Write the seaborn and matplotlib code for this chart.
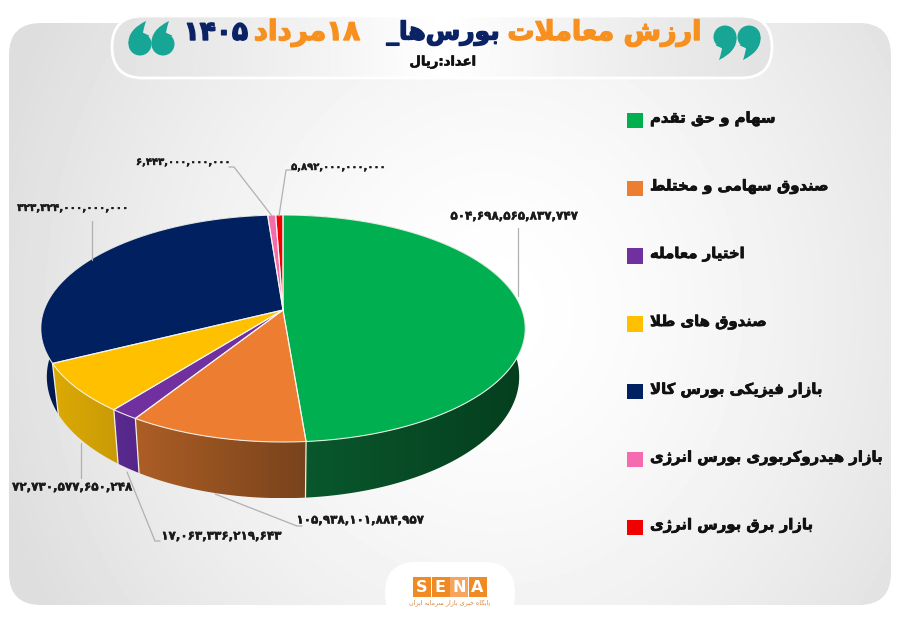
import numpy as np
import pandas as pd
import matplotlib
matplotlib.use('Agg')
import matplotlib.pyplot as plt
import matplotlib.patheffects as pe
from matplotlib.patches import FancyBboxPatch, Rectangle, Polygon, Circle, PathPatch
from matplotlib.path import Path
from matplotlib.colors import to_rgb
import seaborn as sns

categories = ['سهام و حق تقدم', 'صندوق سهامی و مختلط', 'اختیار معامله', 'صندوق های طلا',
              'بازار فیزیکی بورس کالا', 'بازار هیدروکربوری بورس انرژی', 'بازار برق بورس انرژی']
values = [504698565837747, 105938101884957, 17063336219643, 72730577650248,
          323324000000000, 6443000000000, 5892000000000]
value_labels = ['۵۰۴,۶۹۸,۵۶۵,۸۳۷,۷۴۷', '۱۰۵,۹۳۸,۱۰۱,۸۸۴,۹۵۷', '۱۷,۰۶۳,۳۳۶,۲۱۹,۶۴۳', '۷۲,۷۳۰,۵۷۷,۶۵۰,۲۴۸',
                '۳۲۳,۳۲۴,۰۰۰,۰۰۰,۰۰۰', '۶,۴۴۳,۰۰۰,۰۰۰,۰۰۰', '۵,۸۹۲,۰۰۰,۰۰۰,۰۰۰']
label_sizes = [8.6, 8.6, 8.6, 8.6, 7.5, 7.2, 7.2]
colors = ['#00b050', '#ed7d31', '#7030a0', '#ffc000', '#002060', '#f56bb0', '#f00000']
# wall shading, left and right end as seen on screen
wall_left = ['#0a5a2e', '#ad5e25', '#5a2a8f', '#dcaa04', '#001a52', '#a0406f', '#a00000']
wall_right = ['#053e1e', '#78431c', '#55268a', '#c99a06', '#001a52', '#a0406f', '#a00000']

# label box (x, y) and leader line points, in pixels
label_xy = [(514, 216), (360, 520), (221, 536), (72, 487), (73, 208), (183, 162), (338, 167)]
leaders = [[(518, 228), (518, 296)],
           [(302, 526), (297, 526), (215, 494)],
           [(160, 541), (155, 541), (127, 472)],
           [(81, 478), (81, 443)],
           [(92, 221), (92, 260)],
           [(229, 167), (234, 167), (272, 216)],
           [(292, 170), (286, 170), (279, 216)]]

# persian shaping, matplotlib has no text layout for it
FORMS = {'ا': (0xFE8D, 0xFE8E), 'آ': (0xFE81, 0xFE82), 'د': (0xFEA9, 0xFEAA), 'ذ': (0xFEAB, 0xFEAC),
         'ر': (0xFEAD, 0xFEAE), 'ز': (0xFEAF, 0xFEB0), 'ژ': (0xFB8A, 0xFB8B), 'و': (0xFEED, 0xFEEE),
         'ب': (0xFE8F,) , 'ت': (0xFE95,), 'ج': (0xFE9D,), 'ح': (0xFEA1,), 'خ': (0xFEA5,), 'س': (0xFEB1,),
         'ش': (0xFEB5,), 'ص': (0xFEB9,), 'ط': (0xFEC1,), 'ع': (0xFEC9,), 'ف': (0xFED1,), 'ق': (0xFED5,),
         'ل': (0xFEDD,), 'م': (0xFEE1,), 'ن': (0xFEE5,), 'ه': (0xFEE9,), 'پ': (0xFB56,), 'ک': (0xFB8E,),
         'گ': (0xFB92,), 'ی': (0xFBFC,)}
DIGITS = '۰۱۲۳۴۵۶۷۸۹'


def shape_run(s):
    out = []
    i = 0
    while i < len(s):
        c = s[i]
        if c not in FORMS:
            out.append(c)
            i += 1
            continue
        prev = s[i - 1] if i > 0 else ' '
        joins_prev = prev in FORMS and len(FORMS[prev]) == 1
        if c == 'ل' and i + 1 < len(s) and s[i + 1] == 'ا':
            out.append(chr(0xFEFC if joins_prev else 0xFEFB))
            i += 2
            continue
        nxt = s[i + 1] if i + 1 < len(s) else ' '
        joins_next = nxt in FORMS
        f = FORMS[c]
        if len(f) == 2:
            out.append(chr(f[1] if joins_prev else f[0]))
        else:
            k = (1 if joins_prev else 0) if not joins_next else (3 if joins_prev else 2)
            out.append(chr(f[0] + k))
        i += 1
    return ''.join(out)


def fa(s):
    # split digit runs so they stay left to right
    runs = []
    cur = ''
    for c in s:
        if cur and (c in DIGITS) != (cur[-1] in DIGITS):
            runs.append(cur)
            cur = ''
        cur += c
    runs.append(cur)
    shaped = [r if r[0] in DIGITS else shape_run(r)[::-1] for r in runs]
    return ''.join(shaped[::-1])


def heavy(col, w=0.5):
    return [pe.withStroke(linewidth=w, foreground=col)]


def quote_mark(ax, hx, hy, sign, col):
    # ornament: round head with a curved tail, sign=1 hangs down (9), sign=-1 points up (6)
    r = 11.5
    ax.add_patch(Circle((hx, hy), r, fc=col, ec='none', zorder=3))
    pts = [(r, 0), (r + 1, 14), (-6, 23), (-3, 14), (-3, r - 1), (-r + 2, r - 3)]
    pts = [(hx + sign * p[0], hy + sign * p[1]) for p in pts]
    ax.add_patch(PathPatch(Path(pts, [Path.MOVETO, Path.CURVE3, Path.CURVE3, Path.CURVE3, Path.CURVE3, Path.LINETO]),
                           fc=col, ec='none', zorder=3))


sns.set_theme(style='white')
plt.rcParams['font.family'] = ['DejaVu Sans']
df = pd.DataFrame({'category': categories, 'value': values, 'pos': np.arange(len(categories))})

fig = plt.figure(figsize=(9, 6.23), dpi=100)
ax = fig.add_axes([0, 0, 1, 1])

# panel background
yy, xx = np.mgrid[0:1:200j, 0:1:300j]
bg = 1 - 0.105 * np.clip(np.hypot((xx - 0.55) / 0.5, (yy - 0.5) / 0.8), 0, 1.15) ** 1.5
im = ax.imshow(bg, extent=(0, 900, 623, 0), cmap='gray', vmin=0, vmax=1, aspect='auto', zorder=0)
panel = FancyBboxPatch((9, 23), 882, 582, boxstyle='round,pad=0,rounding_size=32', fc='none', ec='none')
ax.add_patch(panel)
im.set_clip_path(panel)

# title pill
px = np.linspace(0, 1, 300)[None, :]
pill_bg = 0.89 + 0.11 * (1 - np.abs(px - 0.5) * 2) ** 1.2
im2 = ax.imshow(pill_bg, extent=(112, 772, 78, 16), cmap='gray', vmin=0, vmax=1, aspect='auto', zorder=1)
pill = FancyBboxPatch((112, 16), 660, 62, boxstyle='round,pad=0,rounding_size=31', fc='none', ec='white', lw=2, zorder=2)
ax.add_patch(pill)
im2.set_clip_path(pill)

ORANGE = '#f7901e'
NAVY = '#0b2265'
TEAL = '#17a596'
for txt, x, col, fs in [('ارزش معاملات', 702, ORANGE, 19.5), ('بورس‌ها_', 500, NAVY, 18),
                        ('۱۸مرداد', 360, ORANGE, 20), ('۱۴۰۵', 248, NAVY, 19)]:
    ax.text(x, 33, fa(txt), ha='right', va='center', fontsize=fs, fontweight='bold', color=col, zorder=3,
            path_effects=heavy(col, 1.0))
ax.text(443, 62, fa('اعداد:ریال'), ha='center', va='center', fontsize=9.5, fontweight='bold', color='#111111', zorder=3,
        path_effects=heavy('#111111', 0.4))
for hx in [725, 749]:
    quote_mark(ax, hx, 37, 1, TEAL)
for hx in [140, 163]:
    quote_mark(ax, hx, 44, -1, TEAL)

# perspective pie, angles go clockwise from the top
cx, cy, rx, ry, k, depth, taper = 283, 310, 239, 110.5, 0.163, 47, 0.025
edges = np.concatenate([[0], np.cumsum(df['value'] / df['value'].sum()) * 2 * np.pi])


def project(theta, drop=0.0):
    z = np.cos(theta)
    s = 1 / (1 + k * z)
    sx = 1 - taper * np.asarray(drop) / depth
    return cx + rx * np.sin(theta) * s * sx, cy - ry * z * s + drop * s


grad = np.linspace(0, 1, 256)[None, :, None]
for i in range(len(values)):
    a, b = edges[i], edges[i + 1]
    t = np.linspace(a, b, 200)
    x1, y1 = project(t)
    x2, y2 = project(t[::-1], depth)
    poly = np.c_[np.r_[x1, x2], np.r_[y1, y2]]
    rgb = np.array(to_rgb(wall_left[i])) * (1 - grad) + np.array(to_rgb(wall_right[i])) * grad
    wall = ax.imshow(rgb, extent=(poly[:, 0].min(), poly[:, 0].max(), poly[:, 1].max(), poly[:, 1].min()),
                     aspect='auto', zorder=4)
    clip = Polygon(poly, closed=True, fc='none', ec='none')
    ax.add_patch(clip)
    wall.set_clip_path(clip)

for a in edges[:-1]:
    # white seam on the wall between slices
    if np.cos(a) < 0.2:
        xe, ye = project(np.array([a, a]), np.array([0, depth]))
        ax.plot(xe, ye, color='#f3efe0', lw=0.9, zorder=5)

for i in range(len(values)):
    a, b = edges[i], edges[i + 1]
    t = np.linspace(a, b, 200)
    x, y = project(t)
    ax.fill(np.r_[cx, x], np.r_[cy, y], color=colors[i], lw=0, zorder=6)
    ax.plot(np.r_[cx, x, cx], np.r_[cy, y, cy], color='#f7f7ef', lw=0.8, zorder=7, alpha=0.9)

# value labels and their leader lines
for i in range(len(values)):
    ax.text(label_xy[i][0], label_xy[i][1], value_labels[i], ha='center', va='center', fontsize=label_sizes[i],
            fontweight='bold', color='#1a1a1a', zorder=9, path_effects=heavy('#1a1a1a', 0.3))
    pts = np.array(leaders[i])
    ax.plot(pts[:, 0], pts[:, 1], color='#b0b0b0', lw=0.9, zorder=8)

# legend
df['lx'] = 635
df['ly'] = 120.5 + df['pos'] * 67.8
sns.scatterplot(data=df, x='lx', y='ly', hue='category', palette=colors, marker='s', s=125, linewidth=0,
                legend=False, ax=ax, zorder=9)
for _, row in df.iterrows():
    ax.text(650, row['ly'] - 1.5, fa(row['category']), ha='left', va='center', fontsize=10.7, fontweight='bold',
            color='#111111', zorder=9, path_effects=heavy('#111111', 0.5))

# logo
logo_pill = FancyBboxPatch((385, 562), 130, 62, boxstyle='round,pad=0,rounding_size=31', fc='white', ec='none', zorder=2)
ax.add_patch(logo_pill)
logo_pill.set_clip_path(panel)
logo_letters = ['S', 'E', 'N', 'A']
for i, letter in enumerate(logo_letters):
    ax.add_patch(Rectangle((413 + i * 18.5, 577), 18, 20, fc='#f5a65c' if letter == 'N' else '#f08a24', ec='none', zorder=3))
    ax.text(413 + i * 18.5 + 9, 587, letter, ha='center', va='center', fontsize=11.5, fontweight='bold', color='white', zorder=4)
ax.text(450, 603.5, fa('پایگاه خبری بازار سرمایه ایران'), ha='center', va='center', fontsize=4.6, color='#d9843a', zorder=4)

ax.set_xlim(0, 900)
ax.set_ylim(623, 0)
ax.axis('off')
fig.savefig('out.png', dpi=100, facecolor='white')
